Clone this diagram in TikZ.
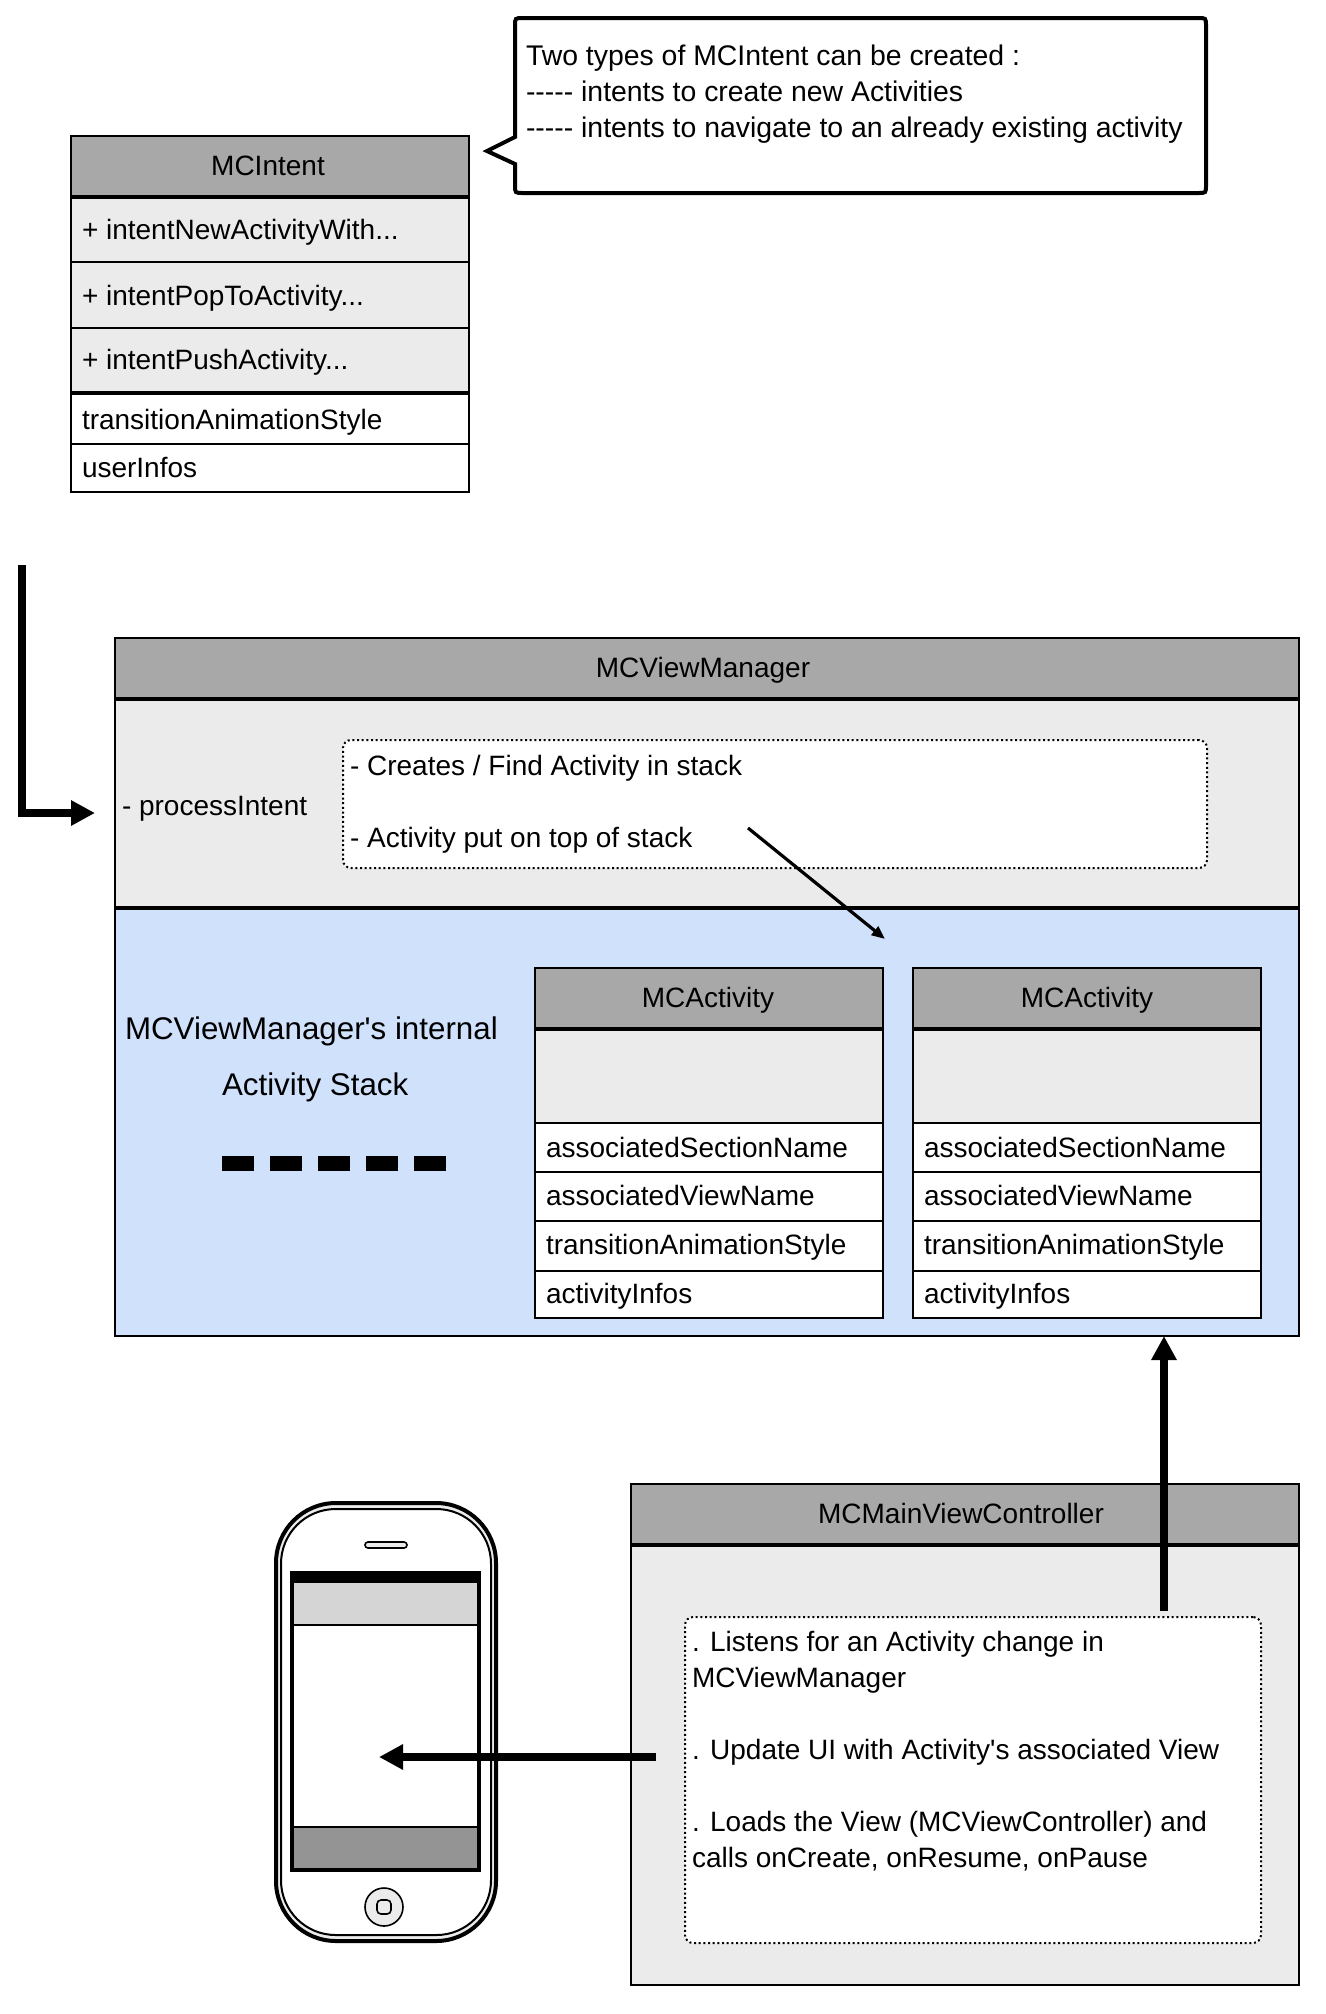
\documentclass[tikz,border=0pt]{standalone}
\usepackage{fontspec}
\setmainfont{Liberation Sans}[Ligatures=TeXOff]
\usetikzlibrary{arrows.meta,shapes.callouts,calc}
\newcommand{\bx}[7][]{% [opts] name style x1 y1 x2 y2
  \pgfmathsetmacro{\cxx}{(#4+#6)/2}\pgfmathsetmacro{\cyy}{(#5+#7)/2}%
  \pgfmathsetmacro{\ww}{(#6-#4)*0.75}\pgfmathsetmacro{\hh}{(#7-#5)*0.75}%
  \node[#3,minimum width=\ww pt,minimum height=\hh pt,#1] (#2) at (\cxx,\cyy) {};}
\definecolor{hd}{HTML}{A8A8A8}
\definecolor{bd}{HTML}{EBEBEB}
\definecolor{st}{HTML}{D0E1FB}
\tikzset{
  every node/.style={inner sep=0pt,outer sep=0pt},
  hbox/.style={draw=black,line width=1.5pt,fill=hd},
  gbox/.style={draw=black,line width=1.5pt,fill=bd},
  wbox/.style={draw=black,line width=1.5pt,fill=white},
  bbox/.style={draw=black,line width=1.5pt,fill=st},
  dbox/.style={draw=black,line width=1.5pt,fill=white,dash pattern=on 1.5pt off 2pt,rounded corners=6pt},
  sep/.style={line width=3pt},
  txt/.style={anchor=base west,font=\fontsize{21pt}{27pt}\selectfont,align=left},
  ctr/.style={anchor=base,font=\fontsize{21pt}{27pt}\selectfont},
  big/.style={anchor=base west,font=\fontsize{23.5pt}{27pt}\selectfont},
  fatarrow/.style={line width=6.5pt,-{Triangle[length=18pt,width=18pt]}},
  thinarrow/.style={line width=2.4pt,-{Triangle[length=10pt,width=8pt]}},
}
\begin{document}
\begin{tikzpicture}[x=0.75pt,y=-0.75pt]
\useasboundingbox (0,0) rectangle (1326,2014);
% callout
\draw[line width=3pt,fill=white,line join=miter] (515,26) .. controls (515,18) .. (523,18) -- (1198,18) .. controls (1206,18) .. (1206,26) -- (1206,185) .. controls (1206,193) .. (1198,193) -- (523,193) .. controls (515,193) .. (515,185) -- (515,164) -- (487,151) -- (515,137) -- cycle;
\node[txt,font=\fontsize{21.3pt}{27pt}\selectfont] (calltxt) at (526,137) {Two types of MCIntent can be created :\\----- intents to create new Activities\\----- intents to navigate to an already existing activity};
% MCIntent
\bx{i0}{hbox}{71}{136}{469}{197}
\bx{i1}{gbox}{71}{197}{469}{262}
\bx{i2}{gbox}{71}{262}{469}{328}
\bx{i3}{gbox}{71}{328}{469}{393}
\bx{i4}{wbox}{71}{393}{469}{444}
\bx{i5}{wbox}{71}{444}{469}{492}
\draw[sep] (i0.south west) -- (i0.south east);
\draw[sep] (i3.south west) -- (i3.south east);
\node[ctr] (it) at (268,175) {MCIntent};
\node[txt] (it1) at (82,239) {+ intentNewActivityWith...};
\node[txt] (it2) at (82,305) {+ intentPopToActivity...};
\node[txt] (it3) at (82,369) {+ intentPushActivity...};
\node[txt] (it4) at (82,429) {transitionAnimationStyle};
\node[txt] (it5) at (82,477) {userInfos};
% MCViewManager
\bx{v0}{hbox}{115}{638}{1299}{699}
\bx{v1}{gbox}{115}{699}{1299}{908}
\bx{v2}{bbox}{115}{908}{1299}{1336}
\draw[sep] (v0.south west) -- (v0.south east);
\draw[sep] (v1.south west) -- (v1.south east);
\node[ctr] (vt) at (703,677) {MCViewManager};
\node[txt] (vp) at (122,815) {- processIntent};
\bx{vd}{dbox}{343}{740}{1207}{868}
\node[txt] (vdt) at (350,847) {- Creates / Find Activity in stack\\[27pt]- Activity put on top of stack};
\node[big] (s1) at (125,1039) {MCViewManager's internal};
\node[big] (s2) at (222,1095) {Activity Stack};
\foreach \k/\xa in {1/222,2/270,3/318,4/366,5/414}{
  \bx{dash\k}{fill=black}{\xa}{1156}{\xa+32}{1171}
}
% Activities
\foreach \n/\xa/\xb/\xc/\xt in {a/535/883/708/546,b/913/1261/1087/924}{
  \bx{\n0}{hbox}{\xa}{968}{\xb}{1029}
  \bx{\n1}{gbox}{\xa}{1029}{\xb}{1123}
  \bx{\n2}{wbox}{\xa}{1123}{\xb}{1172}
  \bx{\n3}{wbox}{\xa}{1172}{\xb}{1221}
  \bx{\n4}{wbox}{\xa}{1221}{\xb}{1271}
  \bx{\n5}{wbox}{\xa}{1271}{\xb}{1318}
  \draw[sep] (\n0.south west) -- (\n0.south east);
  \node[ctr] (\n t) at (\xc,1007) {MCActivity};
  \node[txt] (\n t2) at (\xt,1157) {associatedSectionName};
  \node[txt] (\n t3) at (\xt,1205) {associatedViewName};
  \node[txt] (\n t4) at (\xt,1254) {transitionAnimationStyle};
  \node[txt] (\n t5) at (\xt,1303) {activityInfos};
}
% MCMainViewController
\bx{m0}{hbox}{631}{1484}{1299}{1545}
\bx{m1}{gbox}{631}{1545}{1299}{1985}
\draw[sep] (m0.south west) -- (m0.south east);
\node[ctr] (mt) at (961,1523) {MCMainViewController};
\bx{md}{dbox}{685}{1617}{1261}{1943}
\node[txt] (mdt) at (692,1867) {. Listens for an Activity change in\\MCViewManager\\[27pt]. Update UI with Activity's associated View\\[27pt]. Loads the View (MCViewController) and\\calls onCreate, onResume, onPause};
% phone
\bx{p0}{draw=black,line width=3pt,fill=bd,rounded corners=45pt}{276}{1503}{496}{1941}
\bx{p1}{draw=black,line width=1.5pt,fill=white,rounded corners=41pt}{281}{1509}{491}{1935}
\bx{ps}{draw=black,line width=1.2pt,fill=bd,rounded corners=2.2pt}{365}{1542}{407}{1548}
\bx{pscr}{fill=black}{290}{1571}{481}{1872}
\bx{pa}{fill=white}{294}{1583}{477}{1868}
\bx{pb}{fill=black!16.5}{294}{1583}{477}{1625}
\bx{pc}{fill=black!42}{294}{1827}{477}{1868}
\draw[line width=1.5pt] (pb.south west) -- (pb.south east);
\draw[line width=1.5pt] (pc.north west) -- (pc.north east);
\node[draw=black,line width=1.2pt,fill=bd,circle,minimum size=28.5pt] (ph) at (384,1907) {};
\bx{phi}{draw=black,line width=1.2pt,fill=bd,rounded corners=3pt}{377}{1900}{391}{1914}
% connectors
\coordinate (c0) at (22,565);
\coordinate (c1) at (22,813);
\coordinate (c2) at (95,813);
\draw[fatarrow,line join=miter] (c0) -- (c1) -- (c2);
\coordinate (c3) at (748,828);
\coordinate (c4) at (885,939);
\draw[thinarrow] (c3) -- (c4);
\coordinate (c5) at (1164,1611);
\draw[fatarrow] (c5) -- (c5 |- v2.south);
\coordinate (c6) at (656,1757);
\coordinate (c7) at (379,1757);
\draw[fatarrow] (c6) -- (c7);
\end{tikzpicture}
\end{document}
